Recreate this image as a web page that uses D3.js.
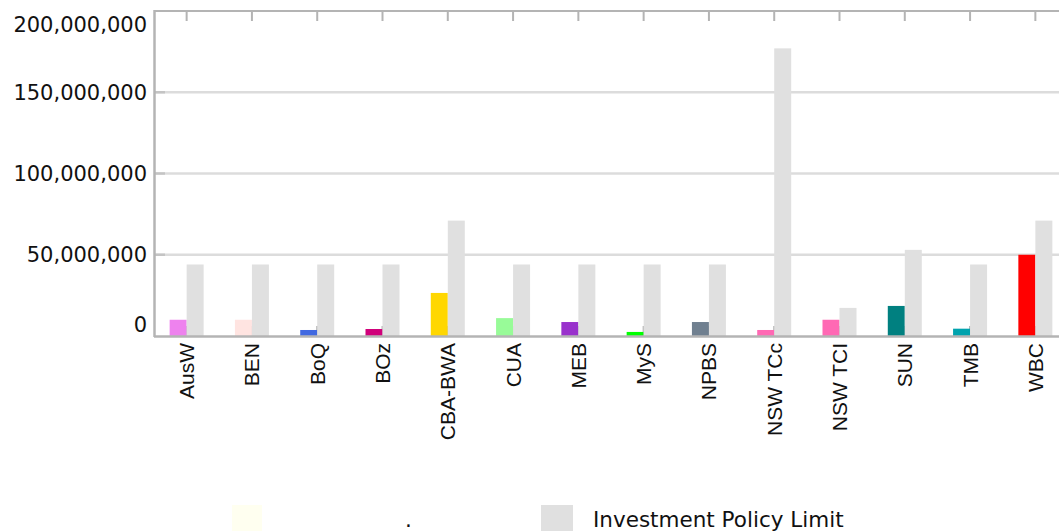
<!DOCTYPE html>
<html>
<head>
<meta charset="utf-8">
<script src="https://cdn.jsdelivr.net/npm/d3@7"></script>
<style>
  body { margin: 0; background: #fff; }
  svg { display: block; }
</style>
</head>
<body>
<div id="chart"></div>
<script>
// data
var categories = ["AusW", "BEN", "BoQ", "BOz", "CBA-BWA", "CUA", "MEB", "MyS", "NPBS", "NSW TCc", "NSW TCI", "SUN", "TMB", "WBC"];
var holdings = [10000000, 10000000, 3700000, 4300000, 26500000, 11000000, 8600000, 2500000, 8600000, 3700000, 10000000, 18500000, 4500000, 50000000];
var policyLimit = [44000000, 44000000, 44000000, 44000000, 71000000, 44000000, 44000000, 44000000, 44000000, 177000000, 17300000, 53000000, 44000000, 71000000];
var barColors = ["#ee82ee", "#ffe4e1", "#4169e1", "#d0007a", "#ffd700", "#98fb98", "#9932cc", "#00ff00", "#708090", "#ff69b4", "#ff69b4", "#008080", "#00a3ae", "#ff0000"];
var yTicks = [0, 50000000, 100000000, 150000000, 200000000];
var seriesNames = [".", "Investment Policy Limit"];

var w = 1059, h = 531;
var plotLeft = 154, plotRight = 1068, plotTop = 11, plotBottom = 336;
var axisGrey = "#b4b4b4", gridGrey = "#dcdcdc", limitGrey = "#e0e0e0";

var svg = d3.select("#chart").append("svg")
	.attr("width", w)
	.attr("height", h);

var x = d3.scaleBand().domain(categories).range([plotLeft, plotRight]);
var x1 = d3.scaleBand().domain([0, 1]).range([-17, 17]);
var y = d3.scaleLinear().domain([0, 200000000]).range([plotBottom, plotTop]);
var fmt = d3.format(",");
var inner = yTicks.filter(function(d) { return d > 0 && d < 200000000; });

//gridlines
svg.append("g").selectAll("line")
	.data(inner).enter().append("line")
	.attr("x1", plotLeft).attr("x2", w)
	.attr("y1", function(d) { return y(d); })
	.attr("y2", function(d) { return y(d); })
	.style("stroke", gridGrey)
	.style("stroke-width", 2.5);

//small inward ticks on the left axis
svg.append("g").selectAll("line")
	.data(inner).enter().append("line")
	.attr("x1", plotLeft).attr("x2", plotLeft + 11)
	.attr("y1", function(d) { return y(d); })
	.attr("y2", function(d) { return y(d); })
	.style("stroke", "#c4c4c4")
	.style("stroke-width", 2.5);

//category ticks, top (down) and bottom (up)
var ticks = svg.append("g");
ticks.selectAll("line.top")
	.data(categories).enter().append("line")
	.attr("class", "top")
	.attr("x1", function(d) { return x(d) + x.bandwidth() / 2; })
	.attr("x2", function(d) { return x(d) + x.bandwidth() / 2; })
	.attr("y1", plotTop).attr("y2", plotTop + 10)
	.style("stroke", axisGrey).style("stroke-width", 2);
ticks.selectAll("line.bot")
	.data(categories).enter().append("line")
	.attr("class", "bot")
	.attr("x1", function(d) { return x(d) + x.bandwidth() / 2; })
	.attr("x2", function(d) { return x(d) + x.bandwidth() / 2; })
	.attr("y1", plotBottom - 10).attr("y2", plotBottom)
	.style("stroke", axisGrey).style("stroke-width", 2);

//bars
var groups = svg.append("g").selectAll("g")
	.data(categories).enter().append("g")
	.attr("transform", function(d) { return "translate(" + (x(d) + x.bandwidth() / 2) + ",0)"; });

groups.append("rect")
	.attr("x", x1(0))
	.attr("width", x1.bandwidth())
	.attr("y", function(d, i) { return y(holdings[i]); })
	.attr("height", function(d, i) { return plotBottom - y(holdings[i]); })
	.style("fill", function(d, i) { return barColors[i]; });

groups.append("rect")
	.attr("x", x1(1))
	.attr("width", x1.bandwidth())
	.attr("y", function(d, i) { return y(policyLimit[i]); })
	.attr("height", function(d, i) { return plotBottom - y(policyLimit[i]); })
	.style("fill", limitGrey);

//frame: top, left, bottom
svg.append("line")
	.attr("x1", plotLeft).attr("x2", w).attr("y1", plotTop).attr("y2", plotTop)
	.style("stroke", axisGrey).style("stroke-width", 2);
svg.append("line")
	.attr("x1", plotLeft + 0.5).attr("x2", plotLeft + 0.5).attr("y1", plotTop - 1).attr("y2", plotBottom + 1)
	.style("stroke", axisGrey).style("stroke-width", 2.5);
svg.append("line")
	.attr("x1", plotLeft).attr("x2", w).attr("y1", plotBottom + 0.5).attr("y2", plotBottom + 0.5)
	.style("stroke", axisGrey).style("stroke-width", 2.5);

//y labels, end labels pushed inside
svg.append("g").selectAll("text")
	.data(yTicks).enter().append("text")
	.attr("x", 147)
	.attr("y", function(d) {
		var p = y(d);
		if (d === 0) p -= 12;
		if (d === 200000000) p += 13;
		return p;
	})
	.attr("dy", "0.36em")
	.attr("text-anchor", "end")
	.style("font-family", "DejaVu Sans")
	.style("font-size", "21px")
	.style("fill", "#111")
	.text(function(d) { return fmt(d); });

//x labels
svg.append("g").selectAll("text")
	.data(categories).enter().append("text")
	.attr("transform", function(d) { return "translate(" + (x(d) + x.bandwidth() / 2 + 7.5) + "," + (plotBottom + 7) + ") rotate(-90)"; })
	.attr("text-anchor", "end")
	.style("font-family", "Liberation Sans")
	.style("font-size", "21px")
	.style("fill", "#111")
	.text(function(d) { return d; });

//legend
var legend = svg.append("g");
legend.append("rect").attr("x", 232).attr("y", 505).attr("width", 30).attr("height", 30).style("fill", "#fffff0");
legend.append("text").attr("x", 405).attr("y", 527)
	.style("font-family", "DejaVu Sans").style("font-size", "21.5px").style("fill", "#111")
	.text(seriesNames[0]);
legend.append("rect").attr("x", 541).attr("y", 505).attr("width", 32).attr("height", 30).style("fill", limitGrey);
legend.append("text").attr("x", 593).attr("y", 527)
	.style("font-family", "DejaVu Sans").style("font-size", "21.5px").style("fill", "#111")
	.text(seriesNames[1]);
</script>
</body>
</html>
